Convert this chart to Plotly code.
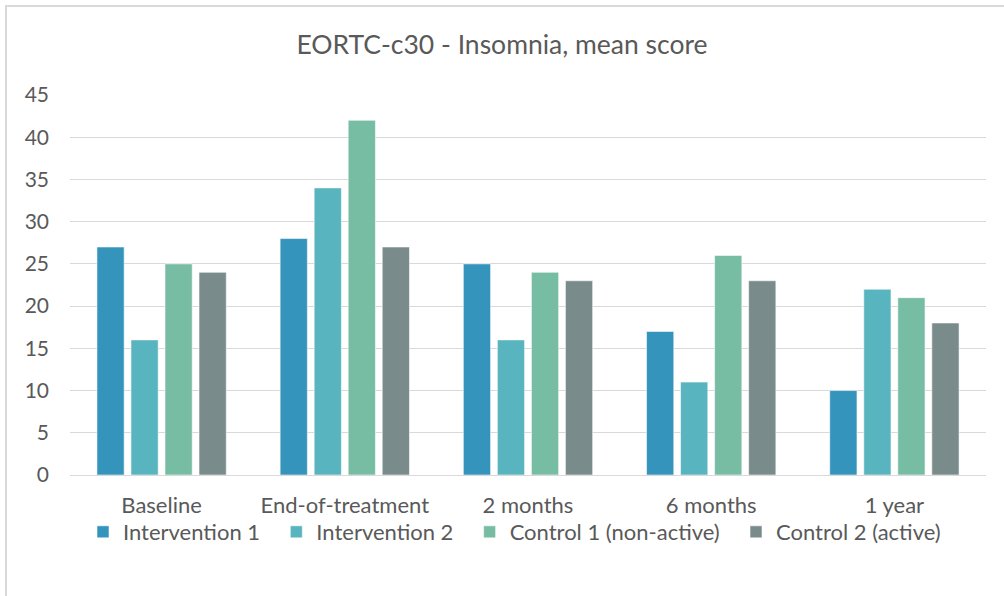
import plotly.graph_objects as go

categories = ["Baseline", "End-of-treatment", "2 months", "6 months", "1 year"]
series_names = ["Intervention 1", "Intervention 2", "Control 1 (non-active)", "Control 2 (active)"]
intervention1 = [27, 28, 25, 17, 10]
intervention2 = [16, 34, 16, 11, 22]
control1 = [25, 42, 24, 26, 21]
control2 = [24, 27, 23, 23, 18]
y_ticks = [0, 5, 10, 15, 20, 25, 30, 35, 40, 45]

colors = ["#3594BB", "#58B5C0", "#77BDA4", "#7A8B8C"]
values = [intervention1, intervention2, control1, control2]

FONT = "Lato, 'Open Sans', sans-serif"
TXT = "#595959"
PAD = "\u00a0\u00a0"  # extra spacing after legend entries

fig = go.Figure()
for name, vals, c in zip(series_names, values, colors):
    fig.add_trace(go.Bar(
        x=categories, y=vals, name=name + PAD,
        hovertemplate=name + ": %{y}<extra></extra>",
        marker=dict(color=c, line=dict(color="rgba(255,255,255,0.55)", width=1)),
    ))

W, H = 1004, 596
L, R, T, B = 70, 18, 95, 121
pw, ph = W - L - R, H - T - B

fig.update_layout(
    width=W, height=H,
    margin=dict(l=L, r=R, t=T, b=B),
    paper_bgcolor="white", plot_bgcolor="white",
    barmode="group", bargap=0.257, bargroupgap=0.2,
    title=dict(text="EORTC-c30 - Insomnia, mean score", x=0.5, xanchor="center",
               y=1 - 45 / H, yanchor="middle",
               font=dict(family=FONT, size=26.5, color=TXT)),
    font=dict(family=FONT, color=TXT),
    xaxis=dict(showgrid=False, showline=True, linecolor="#D9D9D9", linewidth=1,
               tickfont=dict(size=22, color=TXT), ticks="", ticklen=0,
               ticklabelstandoff=11),
    yaxis=dict(range=[0, 45], tickvals=y_ticks, showgrid=True, gridcolor="#D9D9D9",
               gridwidth=1, zeroline=False, showline=False,
               tickfont=dict(size=21, color=TXT), ticks="", ticklabelstandoff=20),
    legend=dict(orientation="h", x=(83 - L) / pw, xanchor="left",
                y=-(532 - (T + ph)) / ph, bgcolor="rgba(0,0,0,0)",
                yanchor="middle", font=dict(size=22, color=TXT),
                itemwidth=30, traceorder="normal", tracegroupgap=0),
    showlegend=True,
)

# chart frame (top and left edges visible in the window) drawn as a page overlay
post = (
    "document.body.style.margin='0';"
    "var f=document.createElement('div');"
    "f.style.cssText='position:fixed;left:5px;top:5px;width:1200px;height:800px;"
    "border:2px solid #D9D9D9;pointer-events:none;box-sizing:border-box;';"
    "document.body.appendChild(f);"
)

fig.write_html("out.html", config={"displayModeBar": False}, post_script=post)
